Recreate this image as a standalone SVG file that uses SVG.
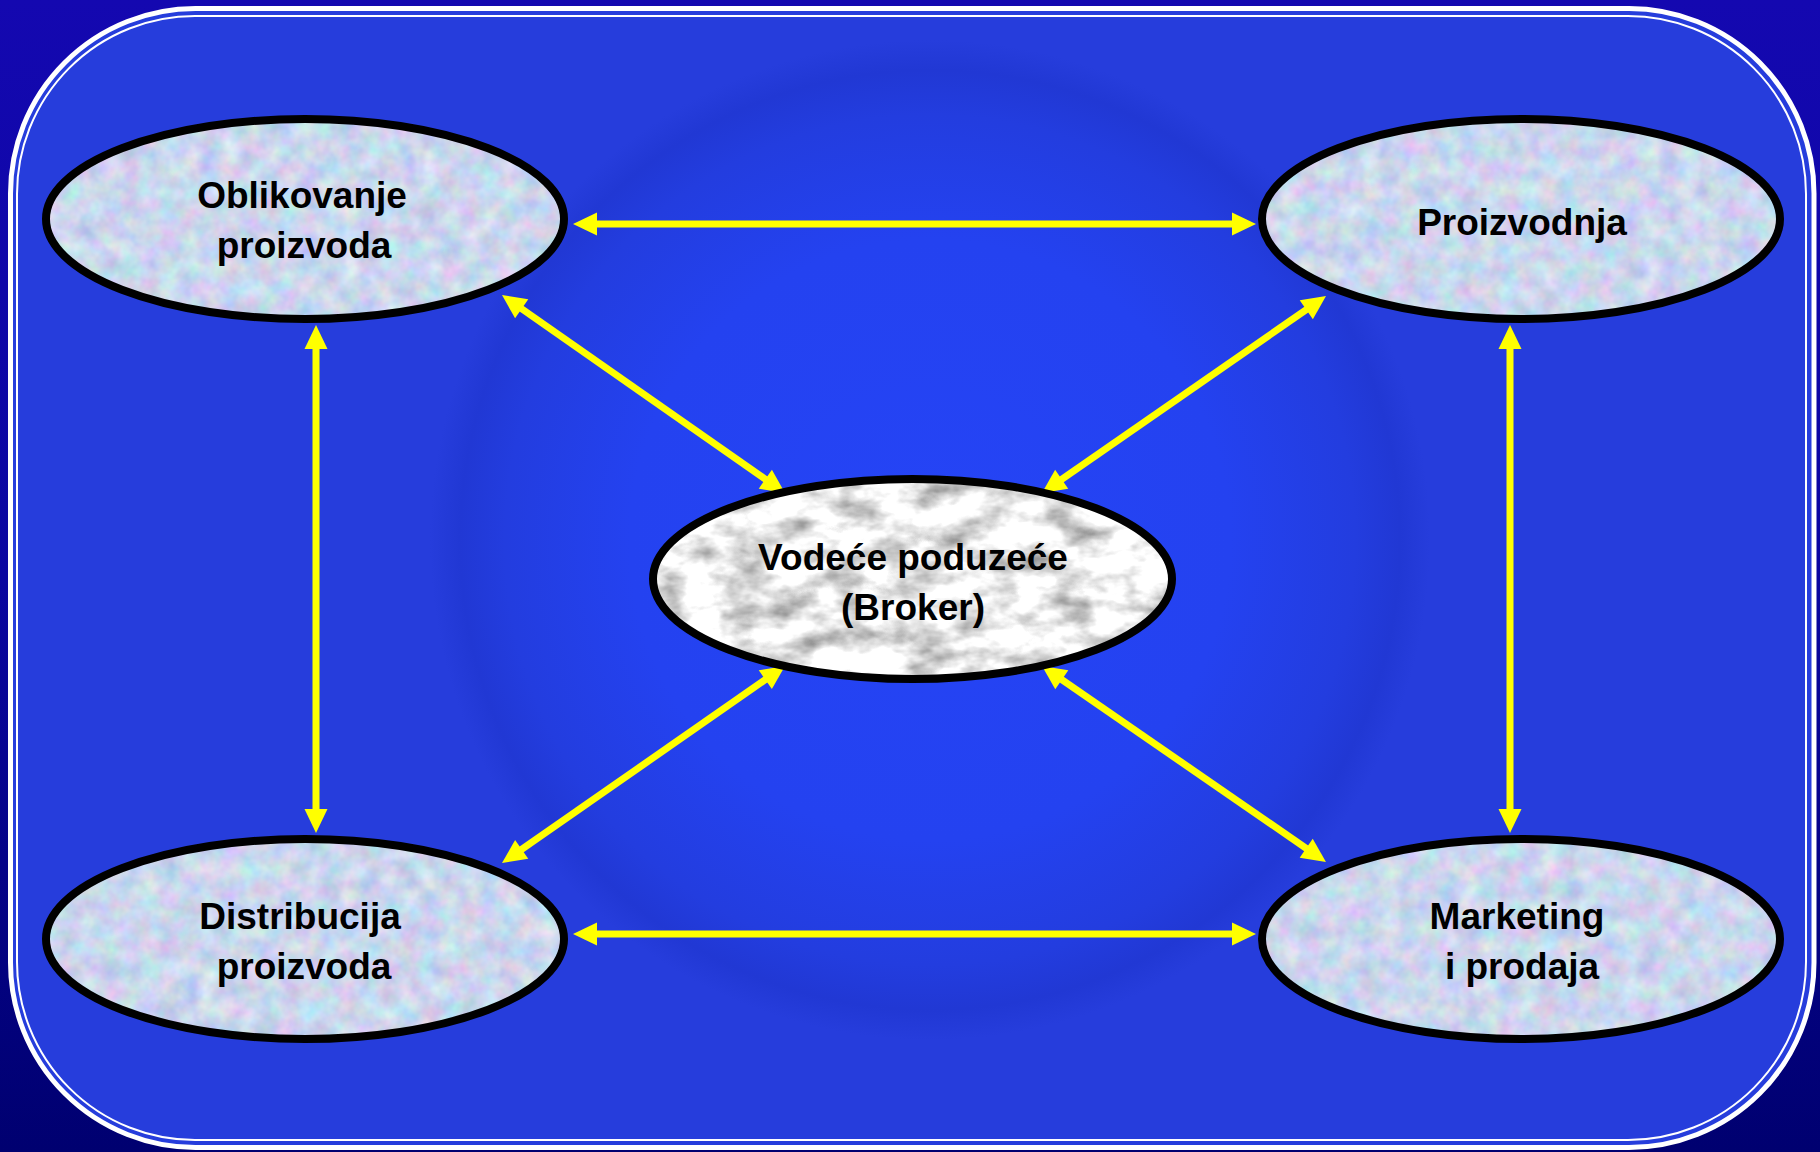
<svg xmlns="http://www.w3.org/2000/svg" width="1820" height="1152" viewBox="0 0 1820 1152">
  <defs>
    <linearGradient id="navy" x1="0" y1="0" x2="0" y2="1">
      <stop offset="0" stop-color="#1408b0"/>
      <stop offset="0.5" stop-color="#0a06a0"/>
      <stop offset="1" stop-color="#000070"/>
    </linearGradient>
    <radialGradient id="plate" cx="930" cy="540" r="500" gradientUnits="userSpaceOnUse">
      <stop offset="0" stop-color="#2544f6"/>
      <stop offset="0.6" stop-color="#2442f0"/>
      <stop offset="0.85" stop-color="#233ddf"/>
      <stop offset="0.94" stop-color="#2138d4"/>
      <stop offset="1" stop-color="#263ddc"/>
    </radialGradient>
    <filter id="pastel" color-interpolation-filters="sRGB">
      <feTurbulence type="fractalNoise" baseFrequency="0.05" numOctaves="3" seed="7" result="n"/>
      <feColorMatrix in="n" type="matrix" values="0.35 0 0 0 0.62  0 0.28 0 0 0.7  0 0 0.18 0 0.84  0 0 0 0 1" result="c"/>
      <feComposite in="c" in2="SourceGraphic" operator="in"/>
    </filter>
    <filter id="marble" color-interpolation-filters="sRGB">
      <feTurbulence type="fractalNoise" baseFrequency="0.022 0.04" numOctaves="4" seed="4" result="n"/>
      <feColorMatrix in="n" type="matrix" values="1.0 0 0 0 0.42  1.0 0 0 0 0.42  1.0 0 0 0 0.42  0 0 0 0 1" result="c"/>
      <feComposite in="c" in2="SourceGraphic" operator="in"/>
    </filter>
    <marker id="headEnd" markerUnits="userSpaceOnUse" markerWidth="24" markerHeight="23" refX="4" refY="11.5" orient="auto" overflow="visible">
      <path d="M0,0 L24,11.5 L0,23 Z" fill="#ffff00"/>
    </marker>
    <marker id="headStart" markerUnits="userSpaceOnUse" markerWidth="24" markerHeight="23" refX="20" refY="11.5" orient="auto" overflow="visible">
      <path d="M24,0 L0,11.5 L24,23 Z" fill="#ffff00"/>
    </marker>
  </defs>
  <style>
    .outline { fill: none; stroke: #000000; stroke-width: 8; }
    .pastel { fill: #c8d8f4; filter: url(#pastel); }
    .marble { fill: #e8e8e8; filter: url(#marble); }
    .label { font-family: "Liberation Sans", Arial, sans-serif; font-weight: bold; font-size: 37px; fill: #000000; text-anchor: middle; }
    .conn { stroke: #ffff00; stroke-width: 7; fill: none; marker-start: url(#headStart); marker-end: url(#headEnd); }
  </style>

  <!-- background -->
  <rect x="0" y="0" width="1820" height="1152" fill="url(#navy)"/>
  <rect x="10.5" y="8.5" width="1803.5" height="1139" rx="185" ry="185" fill="url(#plate)" stroke="#ffffff" stroke-width="5"/>
  <rect x="17" y="16" width="1789" height="1124" rx="178" ry="178" fill="none" stroke="#ffffff" stroke-width="2"/>

  <!-- connectors -->
  <g id="connectors">
    <line class="conn" x1="593" y1="224" x2="1236" y2="224"/>
    <line class="conn" x1="593" y1="934" x2="1236" y2="934"/>
    <line class="conn" x1="316" y1="345" x2="316" y2="813"/>
    <line class="conn" x1="1510" y1="345" x2="1510" y2="813"/>
    <line class="conn" x1="518.4" y1="306.5" x2="768.6" y2="481.5"/>
    <line class="conn" x1="1309.6" y1="307.4" x2="1058.4" y2="481.6"/>
    <line class="conn" x1="518.4" y1="851.6" x2="768.6" y2="677.4"/>
    <line class="conn" x1="1309.5" y1="850.6" x2="1058.5" y2="677.4"/>
  </g>

  <!-- nodes -->
  <g id="node-oblikovanje">
    <ellipse class="pastel" cx="305" cy="219" rx="259" ry="100"/>
    <ellipse class="outline" cx="305" cy="219" rx="259" ry="100"/>
    <text class="label" x="302" y="208">Oblikovanje</text>
    <text class="label" x="304" y="258">proizvoda</text>
  </g>
  <g id="node-proizvodnja">
    <ellipse class="pastel" cx="1521" cy="219" rx="259" ry="100"/>
    <ellipse class="outline" cx="1521" cy="219" rx="259" ry="100"/>
    <text class="label" x="1522" y="235">Proizvodnja</text>
  </g>
  <g id="node-distribucija">
    <ellipse class="pastel" cx="305" cy="939" rx="259" ry="100"/>
    <ellipse class="outline" cx="305" cy="939" rx="259" ry="100"/>
    <text class="label" x="300" y="929">Distribucija</text>
    <text class="label" x="304" y="979">proizvoda</text>
  </g>
  <g id="node-marketing">
    <ellipse class="pastel" cx="1521" cy="939" rx="259" ry="100"/>
    <ellipse class="outline" cx="1521" cy="939" rx="259" ry="100"/>
    <text class="label" x="1517" y="929">Marketing</text>
    <text class="label" x="1522" y="979">i prodaja</text>
  </g>
  <g id="node-broker">
    <ellipse class="marble" cx="912.5" cy="579" rx="259.5" ry="100"/>
    <ellipse class="outline" cx="912.5" cy="579" rx="259.5" ry="100"/>
    <text class="label" x="913" y="570">Vodeće poduzeće</text>
    <text class="label" x="913" y="620">(Broker)</text>
  </g>
</svg>
